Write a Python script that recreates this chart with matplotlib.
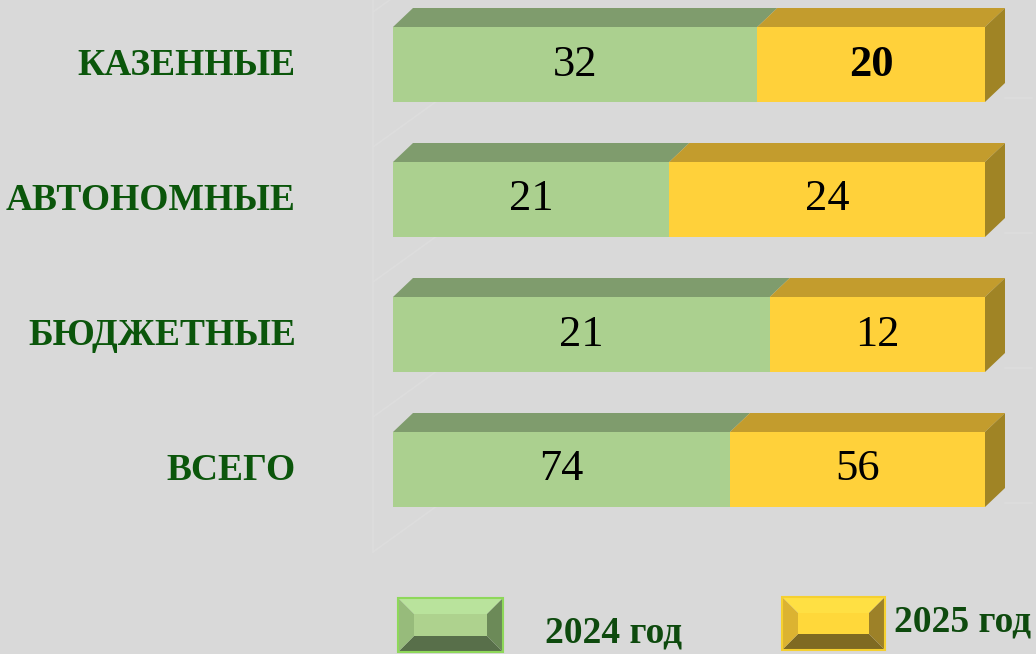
import matplotlib
matplotlib.use("Agg")
import matplotlib.pyplot as plt
from matplotlib.patches import Polygon
import numpy as np

# ---- data ----
categories = ["КАЗЕННЫЕ", "АВТОНОМНЫЕ", "БЮДЖЕТНЫЕ", "ВСЕГО"]
values_2024 = [32, 21, 21, 74]
values_2025 = [20, 24, 12, 56]
series_names = ["2024 год", "2025 год"]
bold_labels_2025 = [True, False, False, False]

# ---- style ----
BG = "#d9d9d9"
GREEN_FRONT, GREEN_TOP = "#abd08f", "#7f9c6d"
YEL_FRONT, YEL_TOP, YEL_SIDE = "#ffd13a", "#c39c2d", "#a08425"
LABEL_GREEN = "#0b560b"
LEGEND_GREEN = "#0e4a0e"
WALL = "#dddddd"

W, H = 1036, 654
fig = plt.figure(figsize=(W / 100, H / 100), dpi=100, facecolor=BG)

# Pixel-space layer for the background wall and the legend
pax = fig.add_axes([0, 0, 1, 1], zorder=0)
pax.set_xlim(0, W)
pax.set_ylim(H, 0)
pax.axis("off")

# Main chart axes: 100 % stacked bars
ax = fig.add_axes([0, 0, 1, 1], zorder=1)
ax.patch.set_alpha(0)
plot_left, plot_right = 393, 985        # pixel span of the 0..1 share axis
row_pitch, first_row = 135, 64.5         # pixel spacing of the rows
ax.set_xlim(-plot_left / (plot_right - plot_left),
            (W - plot_left) / (plot_right - plot_left))
ax.set_ylim((H - first_row) / row_pitch, -first_row / row_pitch)
ax.axis("off")

bar_h = 75 / row_pitch
dx = 20 / (plot_right - plot_left)       # 3-D depth offset
dy = 19 / row_pitch

# faint walls of the 3-D plot area
pax.plot([373, 373], [0, 552], color=WALL, lw=1.2, zorder=0)
for k in range(5):
    y0 = 12 + row_pitch * k
    pax.plot([373, 440], [y0, y0 - 0.72 * 67], color=WALL, lw=1.2, zorder=0)
for k in range(4):
    y0 = 98 + row_pitch * k
    pax.plot([1005, 1032], [y0, y0], color=WALL, lw=1.2, zorder=0)

v24 = np.array(values_2024, float)
v25 = np.array(values_2025, float)
tot = v24 + v25
share24 = v24 / tot
share25 = v25 / tot
ypos = np.arange(len(categories))

ax.barh(ypos, share24, height=bar_h, color=GREEN_FRONT, zorder=3)
ax.barh(ypos, share25, left=share24, height=bar_h, color=YEL_FRONT, zorder=3)

for i in ypos:
    top = i - bar_h / 2
    bot = i + bar_h / 2
    s = share24[i]
    # top faces
    ax.add_patch(Polygon([(0, top), (s, top), (s + dx, top - dy), (dx, top - dy)],
                         closed=True, facecolor=GREEN_TOP, edgecolor="none", zorder=2))
    ax.add_patch(Polygon([(s, top), (1, top), (1 + dx, top - dy), (s + dx, top - dy)],
                         closed=True, facecolor=YEL_TOP, edgecolor="none", zorder=2))
    # right side face
    ax.add_patch(Polygon([(1, top), (1 + dx, top - dy), (1 + dx, bot - dy), (1, bot)],
                         closed=True, facecolor=YEL_SIDE, edgecolor="none", zorder=2))
    # value labels
    ax.text(s / 2, i, f"{values_2024[i]}", ha="center", va="center",
            fontsize=32, family="Liberation Serif", color="black", zorder=5)
    ax.text(s + share25[i] / 2, i, f"{values_2025[i]}", ha="center", va="center",
            fontsize=32, family="Liberation Serif", color="black",
            fontweight="bold" if bold_labels_2025[i] else "normal", zorder=5)
    # category labels
    ax.text(-97 / (plot_right - plot_left), i + 0.01, categories[i],
            ha="right", va="center", fontsize=27, fontweight="bold",
            family="Liberation Serif", color=LABEL_GREEN, zorder=5)


def bevel_box(x0, y0, x1, y1, b, face, top, left, right, bottom, border):
    xi0, yi0, xi1, yi1 = x0 + b, y0 + b, x1 - b, y1 - b
    pax.add_patch(Polygon([(x0, y0), (x1, y0), (xi1, yi0), (xi0, yi0)], facecolor=top, edgecolor="none"))
    pax.add_patch(Polygon([(x0, y1), (x1, y1), (xi1, yi1), (xi0, yi1)], facecolor=bottom, edgecolor="none"))
    pax.add_patch(Polygon([(x0, y0), (xi0, yi0), (xi0, yi1), (x0, y1)], facecolor=left, edgecolor="none"))
    pax.add_patch(Polygon([(x1, y0), (xi1, yi0), (xi1, yi1), (x1, y1)], facecolor=right, edgecolor="none"))
    pax.add_patch(Polygon([(xi0, yi0), (xi1, yi0), (xi1, yi1), (xi0, yi1)], facecolor=face, edgecolor="none"))
    pax.add_patch(Polygon([(x0, y0), (x1, y0), (x1, y1), (x0, y1)], facecolor="none",
                          edgecolor=border, lw=1.5))


# legend
bevel_box(398, 598, 503, 652, 16, "#aed28e", "#b9e39c", "#97bb7b", "#6c8a58", "#586f4a", "#8ed85a")
pax.text(545, 633, series_names[0], ha="left", va="center", fontsize=27,
         fontweight="bold", family="Liberation Serif", color=LEGEND_GREEN)
bevel_box(782, 597, 885, 650, 16, "#ffd83a", "#ffe043", "#dcb331", "#9d8128", "#7f6a22", "#f5d030")
pax.text(894, 622, series_names[1], ha="left", va="center", fontsize=27,
         fontweight="bold", family="Liberation Serif", color=LEGEND_GREEN)

fig.savefig("out.png", dpi=100, facecolor=BG)
